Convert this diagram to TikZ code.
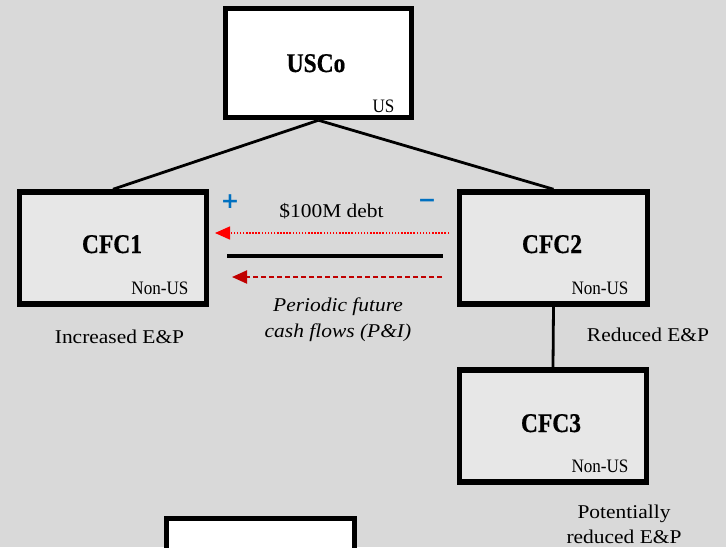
\documentclass[tikz,border=0pt]{standalone}
\usepackage{fontspec}
\setmainfont{Liberation Serif}[FakeStretch=1.1]
\newfontfamily\tagfont{Liberation Serif}[FakeStretch=0.9]
\newfontfamily\namefont{Liberation Serif}[FakeStretch=0.87, FakeBold=0.6]
\newfontfamily\signfont{DejaVu Sans}
\usetikzlibrary{arrows.meta}
\definecolor{bggray}{HTML}{D9D9D9}
\definecolor{cfcgray}{HTML}{E7E7E7}
\definecolor{flowred}{HTML}{FF0000}
\definecolor{darkflow}{HTML}{C00000}
\definecolor{signblue}{HTML}{0070C0}
\tikzset{
  entity/.style={draw=black, line width=5.5pt, inner sep=0pt, minimum width=187pt, minimum height=112pt},
  parent/.style={entity, fill=white, minimum height=109pt},
  sub/.style={entity, fill=cfcgray},
  ename/.style={anchor=base, inner sep=0pt, font=\namefont\bfseries\fontsize{27}{30}\selectfont},
  etag/.style={anchor=base, inner sep=0pt, font=\tagfont\fontsize{19}{22}\selectfont},
  note/.style={anchor=base, inner sep=0pt, font=\fontsize{19.5}{25}\selectfont},
  sign/.style={anchor=center, inner sep=0pt, text=signblue, font=\signfont\bfseries\fontsize{22}{22}\selectfont},
  owner/.style={line width=2.8pt},
  loan/.style={flowred, line width=1.5pt, dash pattern=on 1.5pt off 1.6pt, -{Triangle[length=15pt, width=13pt]}},
  repay/.style={darkflow, line width=2pt, dash pattern=on 5pt off 3pt, -{Triangle[length=15pt, width=13pt]}},
}
\begin{document}
\begin{tikzpicture}[x=1pt, y=-1pt]
  \fill[bggray] (0,0) rectangle (726,547);
  \useasboundingbox (0,0) rectangle (726,547);
  \clip (0,0) rectangle (726,547);

  % entities
  \node[parent, minimum width=186pt] (usco) at (318.5,63) {};
  \node[sub] (cfc1) at (113,248) {};
  \node[sub, minimum width=188pt] (cfc2) at (553.5,248) {};
  \node[sub] (cfc3) at (553,426) {};
  \node[parent, minimum width=188pt] (lower) at (260.5,573) {};

  % ownership lines
  \draw[owner] (usco.south) -- (cfc1.north);
  \draw[owner] (usco.south) -- (cfc2.north);
  \draw[owner] (cfc2.south) -- (cfc3.north);

  % entity names and jurisdictions
  \node[ename] (uscoName) at (316,72) {USCo};
  \node[etag] (uscoTag) at (383.5,112) {US};
  \node[ename] (cfc1Name) at (112,253) {CFC1};
  \node[etag] (cfc1Tag) at (160,294) {Non-US};
  \node[ename] (cfc2Name) at (552,253) {CFC2};
  \node[etag] (cfc2Tag) at (600,294) {Non-US};
  \node[ename] (cfc3Name) at (551,432) {CFC3};
  \node[etag] (cfc3Tag) at (600,472) {Non-US};

  % E&P effects
  \node[note] (epUp) at (119.5,343) {Increased E\&P};
  \node[note] (epDown) at (648,341) {Reduced E\&P};
  \node[note] (epMaybe1) at (624,518) {Potentially};
  \node[note] (epMaybe2) at (624,543) {reduced E\&P};

  % the loan and its repayments
  \coordinate (loanStart) at (449,233);
  \coordinate (loanEnd) at (215,233);
  \coordinate (barL) at (227,256);
  \coordinate (barR) at (443,256);
  \coordinate (payStart) at (442,277);
  \coordinate (payEnd) at (232,277);
  \draw[loan] (loanStart) -- (loanEnd);
  \draw[line width=3.5pt] (barL) -- (barR);
  \draw[repay] (payStart) -- (payEnd);

  \node[note] (debt) at (331.5,217) {\$100M debt};
  \node[sign] (plus) at (230,202) {+};
  \node[sign] (minus) at (427,203) {−};
  \node[note, font=\itshape\fontsize{19.5}{25}\selectfont] (flow1) at (338,311) {Periodic future};
  \node[note, font=\itshape\fontsize{19.5}{25}\selectfont] (flow2) at (338,337) {cash flows (P\&I)};
\end{tikzpicture}
\end{document}
